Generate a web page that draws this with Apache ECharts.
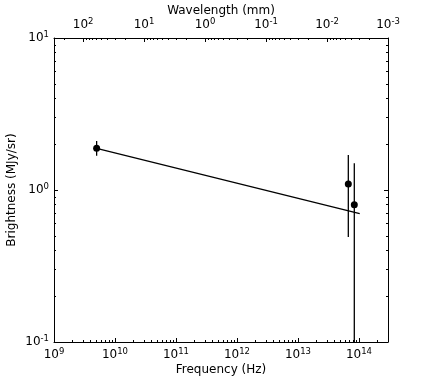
<!DOCTYPE html>
<html>
<head>
<meta charset="utf-8">
<script src="https://cdn.jsdelivr.net/npm/echarts@6/dist/echarts.min.js"></script>
<style>
  html, body { margin: 0; padding: 0; background: #fff; }
  #chart { width: 431px; height: 381px; }
</style>
</head>
<body>
<div id="chart"></div>
<script>
// measured points (Hz, MJy/sr)
const freq = [5.0e9, 6.7e13, 8.4e13]
const bright = [1.88, 1.095, 0.80]
const errLow = [1.68, 0.49, 0.10]
const errHigh = [2.10, 1.70, 1.50]

// power-law fit line
const fitFreq = [5.0e9, 1.03e14]
const fitBright = [1.88, 0.70]

// tick exponents
const freqExps = [9, 10, 11, 12, 13, 14]
const waveExps = [2, 1, 0, -1, -2, -3]
const brightExps = [-1, 0, 1]

const C_MM = 2.998e11 // speed of light, mm/s
const fMin = 1e9
const fMax = 2.998e14
const lgFMin = Math.log10(fMin)
const lgFMax = Math.log10(fMax)
const lgC = Math.log10(C_MM)

const FONT = 'DejaVu Sans'

// minor ticks 2..9 within each decade
const minorTicks = (lo, hi) => {
  const out = []
  for (let n = Math.floor(lo) - 1; n <= Math.ceil(hi); n++) {
    for (let k = 2; k <= 9; k++) {
      const v = n + Math.log10(k)
      if (v > lo + 1e-6 && v < hi - 1e-6) out.push(v)
    }
  }
  return out
}

const powLabel = (v) => {
  const e = Math.round(v)
  return '{b|10}{s|' + e + '}'
}
const richLabel = {
  b: { fontSize: 12, fontFamily: FONT, color: '#000' },
  s: { fontSize: 8.5, fontFamily: FONT, color: '#000', padding: [0, 0, 7, 0] }
}

const hiddenLine = { show: false, onZero: false }
const frameLine = { show: true, onZero: false, lineStyle: { color: '#000', width: 1 } }
const nameStyle = { fontFamily: FONT, fontSize: 12, color: '#000' }

const tickAxis = (base, values, len, withLabels) => Object.assign({
  type: 'value',
  splitLine: { show: false },
  axisLine: hiddenLine,
  nameMoveOverlap: false,
  axisTick: { show: true, inside: true, length: len, customValues: values, lineStyle: { color: '#000', width: 1 } },
  axisLabel: withLabels
    ? { show: true, customValues: values, formatter: powLabel, rich: richLabel, margin: 5 }
    : { show: false }
}, base)

const chart = echarts.init(document.getElementById('chart'))

const option = {
  animation: false,
  backgroundColor: '#fff',
  grid: { left: 54, right: 43, top: 38, bottom: 39, containLabel: false, outerBoundsMode: 'none' },
  xAxis: [
    // data axis (log frequency)
    {
      type: 'log', position: 'bottom', min: fMin, max: fMax,
      axisLine: frameLine, axisTick: { show: false }, axisLabel: { show: false }, splitLine: { show: false }
    },
    tickAxis({ position: 'bottom', min: lgFMin, max: lgFMax,
      name: 'Frequency (Hz)', nameLocation: 'middle', nameGap: 22, nameTextStyle: nameStyle }, freqExps, 4, true),
    tickAxis({ position: 'bottom', min: lgFMin, max: lgFMax }, minorTicks(lgFMin, lgFMax), 2, false),
    // top axis: wavelength in mm
    tickAxis({ position: 'top', inverse: true, min: lgC - lgFMax, max: lgC - lgFMin,
      axisLine: frameLine,
      name: 'Wavelength (mm)', nameLocation: 'middle', nameGap: 21, nameTextStyle: nameStyle }, waveExps, 4, true),
    tickAxis({ position: 'top', inverse: true, min: lgC - lgFMax, max: lgC - lgFMin },
      minorTicks(lgC - lgFMax, lgC - lgFMin), 2, false)
  ],
  yAxis: [
    {
      type: 'log', position: 'left', min: 0.1, max: 10,
      axisLine: frameLine, axisTick: { show: false }, axisLabel: { show: false }, splitLine: { show: false }
    },
    tickAxis({ position: 'left', min: -1, max: 1,
      name: 'Brightness (MJy/sr)', nameLocation: 'middle', nameGap: 36, nameTextStyle: nameStyle }, brightExps, 4, true),
    tickAxis({ position: 'left', min: -1, max: 1 }, minorTicks(-1, 1), 2, false),
    tickAxis({ position: 'right', min: -1, max: 1, axisLine: frameLine }, brightExps, 4, false),
    tickAxis({ position: 'right', min: -1, max: 1 }, minorTicks(-1, 1), 2, false)
  ],
  series: [
    {
      type: 'line',
      xAxisIndex: 0, yAxisIndex: 0,
      data: fitFreq.map((f, i) => [f, fitBright[i]]),
      showSymbol: false,
      symbol: 'none',
      lineStyle: { color: '#000', width: 1.3 }
    },
    {
      type: 'custom',
      xAxisIndex: 0, yAxisIndex: 0,
      data: freq.map((f, i) => [f, errLow[i], errHigh[i]]),
      renderItem: (params, api) => {
        const x = api.value(0)
        const p1 = api.coord([x, api.value(1)])
        const p2 = api.coord([x, api.value(2)])
        return {
          type: 'line',
          shape: { x1: p1[0], y1: p1[1], x2: p2[0], y2: p2[1] },
          style: { stroke: '#000', lineWidth: 1.3 }
        }
      }
    },
    {
      type: 'scatter',
      xAxisIndex: 0, yAxisIndex: 0,
      data: freq.map((f, i) => [f, bright[i]]),
      symbol: 'circle',
      symbolSize: 7,
      itemStyle: { color: '#000', opacity: 1 }
    }
  ]
}

chart.setOption(option)
</script>
</body>
</html>
